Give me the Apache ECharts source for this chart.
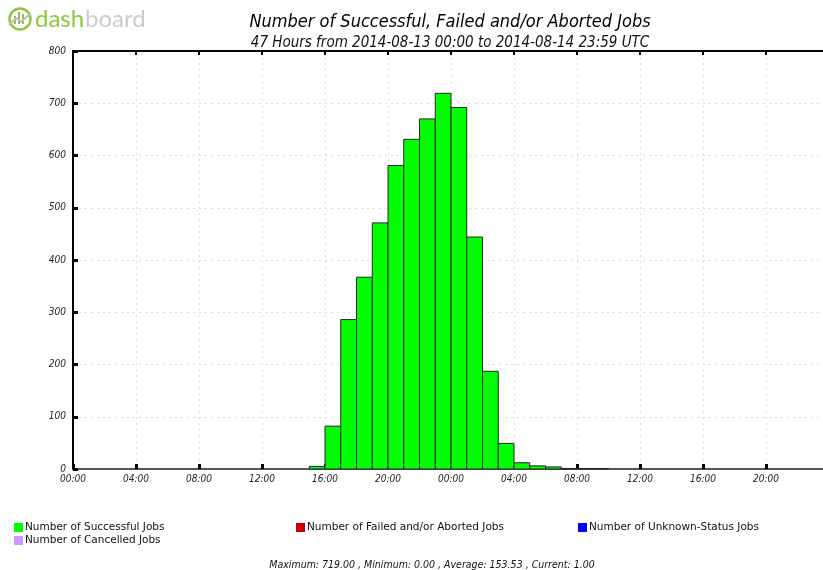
<!DOCTYPE html>
<html>
<head>
<meta charset="utf-8">
<script src="https://cdn.jsdelivr.net/npm/echarts@6/dist/echarts.min.js"></script>
<style>
  html, body { margin: 0; padding: 0; background: #fff; }
  #chart { width: 823px; height: 570px; }
</style>
</head>
<body>
<div id="chart"></div>
<script>
const titleText = 'Number of Successful, Failed and/or Aborted Jobs';
const subtitleText = '47 Hours from 2014-08-13 00:00 to 2014-08-14 23:59 UTC';
const seriesNames = [
  'Number of Successful Jobs',
  'Number of Failed and/or Aborted Jobs',
  'Number of Unknown-Status Jobs',
  'Number of Cancelled Jobs'
];
const seriesColors = ['#00ff00', '#cc0000', '#0000ff', '#cc99ff'];
// hourly job counts, index = hours since 2014-08-13 00:00 UTC
const successful = [0, 0, 0, 0, 0, 0, 0, 0, 0, 0, 0, 0, 0, 0, 0,
  5, 82, 286, 367, 471, 581, 631, 670, 719, 692, 444, 187, 49, 12, 6, 4, 1, 1, 1];
const failed = [];
const unknown = [];
const cancelled = [];
const statsText = 'Maximum: 719.00 , Minimum: 0.00 , Average: 153.53 , Current: 1.00';

const italicFont = "'DejaVu Sans Condensed', 'DejaVu Sans', sans-serif";
const chart = echarts.init(document.getElementById('chart'), null, { renderer: 'canvas' });

function hourLabel(v) {
  if (v % 4 !== 0) return '';
  const h = v % 24;
  return (h < 10 ? '0' : '') + h + ':00';
}

function renderHourBar(params, api) {
  const h = api.value(0);
  const v = api.value(1);
  if (!v) return null;
  const p0 = api.coord([h, 0]);
  const p1 = api.coord([h + 1, v]);
  return {
    type: 'rect',
    shape: { x: p0[0], y: p1[1], width: p1[0] - p0[0], height: p0[1] - p1[1] },
    style: { fill: seriesColors[0], stroke: '#262626', lineWidth: 1 }
  };
}

const legendPos = [[14, 522], [296, 522], [578, 522], [14, 535]];

const option = {
  animation: false,
  backgroundColor: '#fff',
  grid: { left: 73, top: 51, right: -6, bottom: 101, outerBoundsMode: 'none' },
  legend: seriesNames.map((name, i) => ({
    data: [name],
    left: legendPos[i][0],
    top: legendPos[i][1],
    padding: 0,
    icon: 'rect',
    itemWidth: 9,
    itemHeight: 9,
    selectedMode: false,
    textStyle: { fontSize: 10.5, fontFamily: 'DejaVu Sans', color: '#111', padding: [0, 0, 0, -3] }
  })),
  xAxis: [
    {
      type: 'value', min: 0, max: 48, interval: 4, position: 'bottom',
      axisLine: { show: true, onZero: false, lineStyle: { color: '#555', width: 2 } },
      axisTick: { show: true, inside: true, length: 5, lineStyle: { color: '#000', width: 3 } },
      splitLine: { show: true, lineStyle: { color: '#dcdcdc', width: 1, type: [2, 4] } },
      axisLabel: {
        formatter: hourLabel, showMaxLabel: false, margin: 5,
        fontSize: 10, fontStyle: 'italic', color: '#222', fontFamily: italicFont
      }
    },
    {
      type: 'value', min: 0, max: 48, interval: 4, position: 'top',
      axisLine: { show: true, onZero: false, lineStyle: { color: '#000', width: 2 } },
      axisTick: { show: true, inside: true, length: 4, lineStyle: { color: '#000', width: 2 } },
      splitLine: { show: false },
      axisLabel: { show: false }
    }
  ],
  yAxis: {
    type: 'value', min: 0, max: 800, interval: 100,
    axisLine: { show: true, lineStyle: { color: '#000', width: 2 } },
    axisTick: { show: true, inside: true, length: 5, lineStyle: { color: '#000', width: 3 } },
    splitLine: { show: true, lineStyle: { color: '#dcdcdc', width: 1, type: [2, 4] } },
    axisLabel: { margin: 7, fontSize: 10, fontStyle: 'italic', color: '#222', fontFamily: italicFont }
  },
  series: [
    {
      name: seriesNames[0], type: 'custom', xAxisIndex: 0,
      itemStyle: { color: seriesColors[0] },
      renderItem: renderHourBar,
      encode: { x: 0, y: 1 },
      data: successful.map((v, i) => [i, v]),
      z: 1
    },
    { name: seriesNames[1], type: 'bar', itemStyle: { color: seriesColors[1] }, data: failed },
    { name: seriesNames[2], type: 'bar', itemStyle: { color: seriesColors[2] }, data: unknown },
    { name: seriesNames[3], type: 'bar', itemStyle: { color: seriesColors[3] }, data: cancelled }
  ],
  graphic: [
    // dashboard logo
    { type: 'circle', shape: { cx: 20, cy: 19, r: 10.5 }, style: { fill: 'none', stroke: '#8dc63f', lineWidth: 2.5 } },
    { type: 'rect', shape: { x: 14, y: 16, width: 2, height: 8 }, style: { fill: '#8dc63f' } },
    { type: 'rect', shape: { x: 18, y: 12, width: 2, height: 12 }, style: { fill: '#8dc63f' } },
    { type: 'rect', shape: { x: 22, y: 14, width: 2, height: 10 }, style: { fill: '#8dc63f' } },
    { type: 'polyline', shape: { points: [[9, 25], [16, 18], [21, 22], [31, 13]] }, style: { fill: 'none', stroke: '#bdbdbd', lineWidth: 2 } },
    { type: 'text', x: 35, y: 19, style: { text: 'dash', fill: '#8dc63f', font: '24px Lato', verticalAlign: 'middle' } },
    { type: 'text', x: 85, y: 19, style: { text: 'board', fill: '#cccccc', font: '24px Lato', verticalAlign: 'middle' } },
    // titles
    { type: 'text', x: 450, y: 22, style: { text: titleText, fill: '#000', font: 'italic 18px ' + italicFont, align: 'center', verticalAlign: 'middle' } },
    { type: 'text', x: 450, y: 43, style: { text: subtitleText, fill: '#111', font: 'italic 15px ' + italicFont, align: 'center', verticalAlign: 'middle' } },
    // summary statistics
    { type: 'text', x: 432, y: 565, style: { text: statsText, fill: '#111', font: 'italic 10.5px ' + italicFont, align: 'center', verticalAlign: 'middle' } }
  ]
};

chart.setOption(option);
</script>
</body>
</html>
